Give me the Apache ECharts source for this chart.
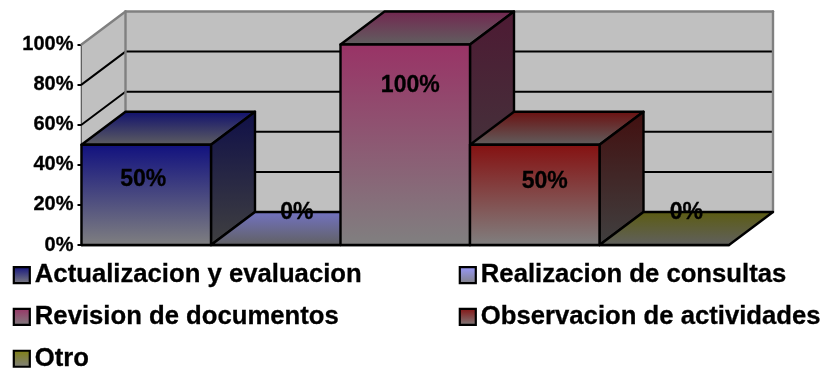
<!DOCTYPE html>
<html>
<head>
<meta charset="utf-8">
<style>html,body{margin:0;padding:0;background:#fff}#chart{width:827px;height:369px}</style>
<script src="https://cdn.jsdelivr.net/npm/echarts@6/dist/echarts.min.js"></script>
</head>
<body>
<div id="chart"></div>
<script>
// Survey answers, one column per activity (percent).
const categories = ['Actualizacion y evaluacion', 'Realizacion de consultas', 'Revision de documentos', 'Observacion de actividades', 'Otro'];
const seriesValues = [50, 0, 100, 50, 0];
const valueTicks = [0, 20, 40, 60, 80, 100];

// Saturated end of each column's shading: front, top and side faces.
const frontTones = ['#10107f', '#9999ff', '#993366', '#851010', '#808010'];
const topTones = ['#0f0f6e', '#7373c4', '#732650', '#6b0f0f', '#5c5c10'];
const sideTones = ['#0f0f48', '#4d4d80', '#4d1a33', '#420f0f', '#33330a'];
// Where each value label sits relative to the column's front-top corner centre.
const labelShift = [[-3, 35], [21, -32], [5, 41.5], [10, 36.5], [22, -32]];
const legendColumns = [[0, 2, 4], [1, 3]];

// Oblique projection of the chart depth.
const DEPTH_X = 44;
const DEPTH_Y = -33;
const INK = '#000';
const WALL = '#c0c0c0';
const WALL_EDGE = '#808080';
const FONT = '"Liberation Sans", Arial, sans-serif';

const ramp = (from, to) => new echarts.graphic.LinearGradient(0, 0, 0, 1, [
  { offset: 0, color: from }, { offset: 1, color: to }
]);
const back = p => [p[0] + DEPTH_X, p[1] + DEPTH_Y];

// Back wall, left wall and floor with their gridlines, all projected from the value axis.
function renderWalls(params, api) {
  const x0 = api.coord([0, 0])[0] - api.size([1, 0])[0] / 2;
  const x1 = x0 + api.size([1, 0])[0] * categories.length;
  const at = v => api.coord([0, v])[1];
  const children = [];
  const poly = (points, fill) => children.push({
    type: 'polygon', shape: { points }, style: { fill, stroke: 'none' }
  });
  const line = (a, b, color, lw) => children.push({
    type: 'line', shape: { x1: a[0], y1: a[1], x2: b[0], y2: b[1] },
    style: { stroke: color, lineWidth: lw, lineCap: 'round' }
  });
  const top = at(100), bottom = at(0);
  poly([[x0, top], back([x0, top]), back([x0, bottom]), [x0, bottom]], WALL);
  poly([back([x0, top]), back([x1, top]), back([x1, bottom]), back([x0, bottom])], WALL);
  poly([[x0, bottom], back([x0, bottom]), back([x1, bottom]), [x1, bottom]], WALL);
  valueTicks.slice(0, -1).forEach(v => {
    const p = [x0, at(v)];
    line(p, back(p), INK, 2);
    line(back(p), back([x1, at(v)]), INK, 2);
  });
  line([x0, top], back([x0, top]), WALL_EDGE, 2.4);
  line(back([x0, top]), back([x1, top]), WALL_EDGE, 2.4);
  line(back([x0, top]), back([x0, bottom]), WALL_EDGE, 2.4);
  line(back([x1, top]), back([x1, bottom]), WALL_EDGE, 2.4);
  return { type: 'group', children };
}

// One column: front, top and side faces plus its value label.
function renderColumn(index) {
  return (params, api) => {
    const band = api.size([1, 0])[0];
    const base = api.coord([api.value(0), 0]);
    const head = api.coord([api.value(0), api.value(1)]);
    const l = base[0] - band / 2, r = base[0] + band / 2;
    const edge = { stroke: INK, lineWidth: 2.4, lineJoin: 'round' };
    const face = (points, fill) => ({ type: 'polygon', shape: { points }, style: Object.assign({ fill }, edge) });
    const tl = [l, head[1]], tr = [r, head[1]], bl = [l, base[1]], br = [r, base[1]];
    const shift = labelShift[index];
    const children = [
      face([tl, back(tl), back(tr), tr], ramp(topTones[index], '#606060'))
    ];
    if (api.value(1) > 0) {
      children.push(face([tr, back(tr), back(br), br], ramp(sideTones[index], '#404040')));
      children.push(face([tl, tr, br, bl], ramp(frontTones[index], '#808080')));
    }
    children.push({
      type: 'text', z2: 10,
      style: {
        text: api.value(1) + '%', x: base[0] + shift[0], y: head[1] + shift[1],
        fill: INK, font: 'bold 23px ' + FONT, align: 'center', verticalAlign: 'middle',
        stroke: INK, lineWidth: 0.3
      }
    });
    return { type: 'group', children };
  };
}

const chart = echarts.init(document.getElementById('chart'), null, { renderer: 'canvas' });

const legends = legendColumns.map((members, col) => ({
  orient: 'vertical',
  left: col === 0 ? 12.7 : 458.7,
  top: 262,
  height: 112,
  padding: 0,
  itemWidth: 16,
  itemHeight: 16,
  itemGap: 15.5,
  selectedMode: false,
  textStyle: {
    color: INK, fontFamily: FONT, fontWeight: 'bold', fontSize: 25.7,
    textBorderColor: INK, textBorderWidth: 0.3
  },
  data: members.map(i => ({
    name: categories[i],
    icon: 'rect',
    itemStyle: { color: ramp(frontTones[i], '#808080'), borderColor: INK, borderWidth: 2.2 }
  }))
}));

chart.setOption({
  animation: false,
  backgroundColor: '#fff',
  legend: legends,
  grid: { left: 81.5, right: 98, top: 44.5, bottom: 124 },
  xAxis: {
    type: 'category',
    data: categories,
    axisLine: { lineStyle: { color: INK, width: 2.4 } },
    axisTick: { show: false },
    axisLabel: { show: false }
  },
  yAxis: {
    type: 'value',
    min: 0,
    max: 100,
    interval: 20,
    splitLine: { show: false },
    axisLine: { show: true, lineStyle: { color: INK, width: 2.4 } },
    axisTick: { show: true, length: 4, lineStyle: { color: INK, width: 2 } },
    axisLabel: {
      formatter: '{value}%', color: INK, fontFamily: FONT, fontWeight: 'bold', fontSize: 20, margin: 8,
      textBorderColor: INK, textBorderWidth: 0.3
    }
  },
  series: [
    { type: 'custom', name: 'walls', silent: true, z: 1, renderItem: renderWalls, data: [[0, 0]], encode: { x: 0, y: 1 } }
  ].concat(categories.map((name, i) => ({
    type: 'custom',
    name,
    z: 2 + i,
    renderItem: renderColumn(i),
    data: [[i, seriesValues[i]]],
    encode: { x: 0, y: 1 }
  })))
});
</script>
</body>
</html>
